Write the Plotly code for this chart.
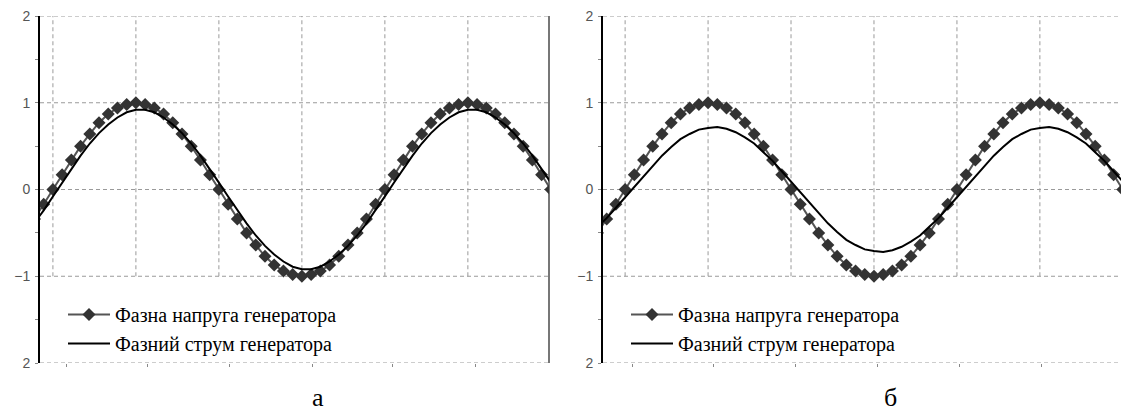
import plotly.graph_objects as go

# Sample angles (electrical degrees)
angle_deg = [-30, -20, -10, 0,
             10, 20, 30, 40, 50, 60, 70, 80, 90, 100, 110, 120, 130, 140, 150, 160, 170, 180,
             190, 200, 210, 220, 230, 240, 250, 260, 270, 280, 290, 300, 310, 320, 330, 340, 350, 360,
             370, 380, 390, 400, 410, 420, 430, 440, 450, 460, 470, 480, 490, 500, 510, 520, 530, 540]

# Generator phase voltage (same in both panels)
voltage = [-0.50, -0.34, -0.17, 0.00,
           0.17, 0.34, 0.50, 0.64, 0.77, 0.87, 0.94, 0.98, 1.00, 0.98, 0.94, 0.87, 0.77, 0.64, 0.50, 0.34, 0.17, 0.00,
           -0.17, -0.34, -0.50, -0.64, -0.77, -0.87, -0.94, -0.98, -1.00, -0.98, -0.94, -0.87, -0.77, -0.64, -0.50, -0.34, -0.17, 0.00,
           0.17, 0.34, 0.50, 0.64, 0.77, 0.87, 0.94, 0.98, 1.00, 0.98, 0.94, 0.87, 0.77, 0.64, 0.50, 0.34, 0.17, 0.00]

# Generator phase current, panel "а"
current_a = [-0.53, -0.39, -0.24, -0.08,
             0.08, 0.24, 0.39, 0.53, 0.65, 0.75, 0.83, 0.89, 0.92, 0.92, 0.89, 0.83, 0.75, 0.65, 0.53, 0.39, 0.24, 0.08,
             -0.08, -0.24, -0.39, -0.53, -0.65, -0.75, -0.83, -0.89, -0.92, -0.92, -0.89, -0.83, -0.75, -0.65, -0.53, -0.39, -0.24, -0.08,
             0.08, 0.24, 0.39, 0.53, 0.65, 0.75, 0.83, 0.89, 0.92, 0.92, 0.89, 0.83, 0.75, 0.65, 0.53, 0.39, 0.24, 0.08]

# Generator phase current, panel "б"
current_b = [-0.43, -0.33, -0.21, -0.09,
             0.04, 0.16, 0.28, 0.39, 0.49, 0.58, 0.64, 0.69, 0.71, 0.72, 0.70, 0.66, 0.60, 0.53, 0.43, 0.33, 0.21, 0.09,
             -0.04, -0.16, -0.28, -0.39, -0.49, -0.58, -0.64, -0.69, -0.71, -0.72, -0.70, -0.66, -0.60, -0.53, -0.43, -0.33, -0.21, -0.09,
             0.04, 0.16, 0.28, 0.39, 0.49, 0.58, 0.64, 0.69, 0.71, 0.72, 0.70, 0.66, 0.60, 0.53, 0.43, 0.33, 0.21, 0.09]

y_tickvals = [-2, -1, 0, 1, 2]
y_ticktext = ["2", "\u22121", "0", "1", "2"]
grid_y = [-2, -1, 0, 1, 2]
grid_angles = [0, 90, 180, 270, 360, 450]
bottom_ticks_a = [15, 103, 192, 282, 368, 458]
bottom_ticks_b = [8, 96, 185, 274, 363, 452]

name_v = "Фазна напруга генератора"
name_i = "Фазний струм генератора"
panel_labels = ["а", "б"]

W, H = 1121, 414
GRID = "#9a9a9a"
SERIF = "Liberation Serif"

fig = go.Figure()

panels = [
    dict(xa="x", ya="y", leg="legend", cur=current_a, g="a"),
    dict(xa="x2", ya="y2", leg="legend2", cur=current_b, g="b"),
]

for p in panels:
    fig.add_trace(go.Scatter(
        x=angle_deg, y=voltage, mode="lines+markers", name=name_v,
        line=dict(color="#555555", width=2),
        marker=dict(symbol="diamond", size=10, color="#333333"),
        xaxis=p["xa"], yaxis=p["ya"], legend=p["leg"], legendgroup="v" + p["g"],
    ))
    fig.add_trace(go.Scatter(
        x=angle_deg, y=p["cur"], mode="lines", name=name_i,
        line=dict(color="black", width=2),
        xaxis=p["xa"], yaxis=p["ya"], legend=p["leg"], legendgroup="i" + p["g"],
    ))

ydom = [51 / H, 398 / H]
yaxis_common = dict(
    range=[-2, 2], tickmode="array", tickvals=y_tickvals, ticktext=y_ticktext,
    showgrid=False, zeroline=False, showline=True, linecolor="black", linewidth=2,
    ticks="", ticklabelstandoff=5, automargin=False,
    tickfont=dict(family="Liberation Sans", size=14, color="#555555"),
    minor=dict(dtick=0.5, tick0=0, ticks="outside", ticklen=3, tickcolor="#888888", showgrid=False),
    domain=ydom,
)
xaxis_common = dict(
    showgrid=False, zeroline=False, showline=False, showticklabels=False, automargin=False,
    ticks="outside", ticklen=3, tickcolor="#888888", tickmode="array",
)

legend_common = dict(
    xanchor="left", yanchor="top", bgcolor="rgba(0,0,0,0)", itemwidth=42,
    tracegroupgap=0, traceorder="grouped",
    font=dict(family=SERIF, size=20, color="black"),
)

fig.update_layout(
    width=W, height=H,
    margin=dict(l=0, r=0, t=0, b=0, autoexpand=False),
    paper_bgcolor="white", plot_bgcolor="white",
    xaxis=dict(xaxis_common, domain=[40 / W, 549 / W], range=[-14, 538], anchor="y", tickvals=bottom_ticks_a),
    yaxis=dict(yaxis_common, anchor="x"),
    xaxis2=dict(xaxis_common, domain=[603 / W, 1.0], range=[-24, 538], anchor="y2", tickvals=bottom_ticks_b),
    yaxis2=dict(yaxis_common, anchor="x2"),
    legend=dict(legend_common, x=63 / W, y=(H - 295) / H),
    legend2=dict(legend_common, x=626 / W, y=(H - 295) / H),
    showlegend=True,
)

shapes = []
for xa, ya in [("x", "y"), ("x2", "y2")]:
    for gy in grid_y:
        shapes.append(dict(type="line", xref=xa + " domain", yref=ya, x0=0, x1=1, y0=gy, y1=gy,
                           line=dict(color=GRID, width=1, dash="4px,3px"), layer="below"))
    for ga in grid_angles:
        shapes.append(dict(type="line", xref=xa, yref=ya, x0=ga, x1=ga, y0=-1, y1=2,
                           line=dict(color=GRID, width=1, dash="4px,3px"), layer="below"))
# right border of panel "а"
shapes.append(dict(type="line", xref="x domain", yref="y domain", x0=1, x1=1, y0=0, y1=1,
                   line=dict(color="#777777", width=2), layer="below"))
fig.update_layout(shapes=shapes)

fig.add_annotation(text=panel_labels[0], xref="paper", yref="paper", x=318 / W, y=0,
                   showarrow=False, xanchor="center", yanchor="bottom",
                   font=dict(family=SERIF, size=26, color="black"))
fig.add_annotation(text=panel_labels[1], xref="paper", yref="paper", x=890 / W, y=0,
                   showarrow=False, xanchor="center", yanchor="bottom",
                   font=dict(family=SERIF, size=26, color="black"))

fig.write_html(
    "out.html",
    config={"displayModeBar": False},
    post_script="document.body.style.margin='0';document.body.style.padding='0';",
)
